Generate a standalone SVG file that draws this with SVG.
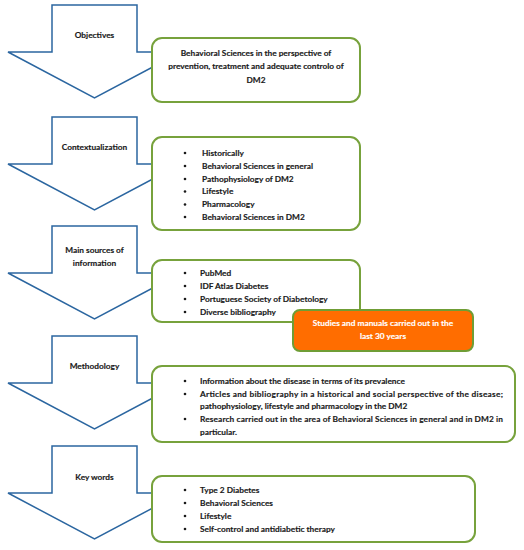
<svg xmlns="http://www.w3.org/2000/svg" width="524" height="550" viewBox="0 0 524 550">
<style>
.arrow{fill:#ffffff;stroke:#2b66a0;stroke-width:1.5;stroke-linejoin:miter}
.box{fill:#ffffff;stroke:#77a23c;stroke-width:2}
.obox{fill:#ff6d00;stroke:#6f9d35;stroke-width:2}
text{font-family:Lato,"Open Sans","Liberation Sans",sans-serif;font-weight:bold;font-size:8.3px;fill:#1a1a1a;stroke:#1a1a1a;stroke-width:0.15}
.c{text-anchor:middle}
.w{fill:#ffffff;stroke:#ffffff}
.dot{fill:#1a1a1a}
</style>
<defs>
<polygon id="arr" points="52,0 137,0 137,47 181,47 94.5,93 8,47 52,47"/>
</defs>
<rect width="524" height="550" fill="#ffffff"/>
<g id="connectors"/>
<g id="arrow-objectives">
<use href="#arr" class="arrow" y="5"/>
<text class="c" x="94.5" y="37.5">Objectives</text>
</g>
<g id="arrow-contextualization">
<use href="#arr" class="arrow" y="117"/>
<text class="c" x="94.5" y="150">Contextualization</text>
</g>
<g id="arrow-sources">
<use href="#arr" class="arrow" y="226"/>
<text class="c" x="94.5" y="253">Main sources of</text>
<text class="c" x="94.5" y="266">information</text>
</g>
<g id="arrow-methodology">
<use href="#arr" class="arrow" y="336"/>
<text class="c" x="94.5" y="369">Methodology</text>
</g>
<g id="arrow-keywords">
<use href="#arr" class="arrow" y="446"/>
<text class="c" x="94.5" y="480">Key words</text>
</g>
<g id="box-objectives">
<rect class="box" x="152" y="38" width="208" height="64" rx="10"/>
<text class="c" x="256" y="56">Behavioral Sciences in the perspective of</text>
<text class="c" x="256" y="69">prevention, treatment and adequate controlo of</text>
<text class="c" x="256" y="83">DM2</text>
</g>
<g id="box-contextualization">
<rect class="box" x="152" y="137" width="208" height="93" rx="10"/>
<circle class="dot" cx="185" cy="153" r="1.3"/><text x="202" y="155.9">Historically</text>
<circle class="dot" cx="185" cy="166" r="1.3"/><text x="202" y="168.9">Behavioral Sciences in general</text>
<circle class="dot" cx="185" cy="179" r="1.3"/><text x="202" y="181.9">Pathophysiology of DM2</text>
<circle class="dot" cx="185" cy="191.5" r="1.3"/><text x="202" y="194.4">Lifestyle</text>
<circle class="dot" cx="185" cy="204.5" r="1.3"/><text x="202" y="207.4">Pharmacology</text>
<circle class="dot" cx="185" cy="217" r="1.3"/><text x="202" y="219.9">Behavioral Sciences in DM2</text>
</g>
<g id="box-sources">
<rect class="box" x="152" y="260" width="208" height="62" rx="10"/>
<circle class="dot" cx="185" cy="273" r="1.3"/><text x="200" y="275.9">PubMed</text>
<circle class="dot" cx="185" cy="286" r="1.3"/><text x="200" y="288.9">IDF Atlas Diabetes</text>
<circle class="dot" cx="185" cy="299" r="1.3"/><text x="200" y="301.9">Portuguese Society of Diabetology</text>
<circle class="dot" cx="185" cy="312" r="1.3"/><text x="200" y="314.9">Diverse bibliography</text>
</g>
<g id="box-studies">
<rect class="obox" x="293" y="310" width="180" height="41" rx="7"/>
<text class="c w" x="383" y="325.9">Studies and manuals carried out in the</text>
<text class="c w" x="383" y="338.9">last 30 years</text>
</g>
<g id="box-methodology">
<rect class="box" x="152" y="366" width="363" height="76" rx="10"/>
<circle class="dot" cx="185" cy="381" r="1.3"/><text x="200" y="383.9">Information about the disease in terms of its prevalence</text>
<circle class="dot" cx="185" cy="394" r="1.3"/><text x="200" y="396.9" textLength="303" lengthAdjust="spacing">Articles and bibliography in a historical and social perspective of the disease;</text>
<text x="200" y="409.2">pathophysiology, lifestyle and pharmacology in the DM2</text>
<circle class="dot" cx="185" cy="419" r="1.3"/><text x="200" y="421.9" textLength="303" lengthAdjust="spacing">Research carried out in the area of Behavioral Sciences in general and in DM2 in</text>
<text x="200" y="434.7">particular.</text>
</g>
<g id="box-keywords">
<rect class="box" x="152" y="476" width="323" height="66" rx="10"/>
<circle class="dot" cx="185" cy="490" r="1.3"/><text x="200" y="492.9">Type 2 Diabetes</text>
<circle class="dot" cx="185" cy="503" r="1.3"/><text x="200" y="505.9">Behavioral Sciences</text>
<circle class="dot" cx="185" cy="516" r="1.3"/><text x="200" y="518.9">Lifestyle</text>
<circle class="dot" cx="185" cy="529" r="1.3"/><text x="200" y="531.9">Self-control and antidiabetic therapy</text>
</g>
</svg>
